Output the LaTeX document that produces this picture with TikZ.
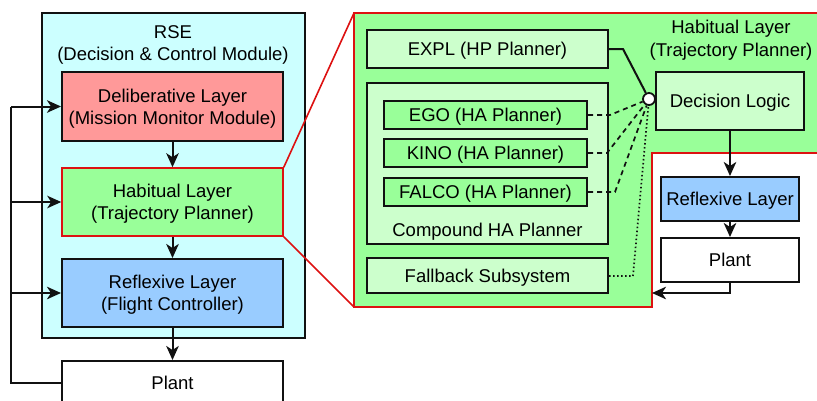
\documentclass[tikz,border=0pt]{standalone}
\usepackage{fontspec}
\setmainfont{Liberation Sans}
\usetikzlibrary{arrows.meta}
\definecolor{cyanbg}{HTML}{CCFFFF}
\definecolor{pinkbg}{HTML}{FF9999}
\definecolor{greenbg}{HTML}{99FF99}
\definecolor{lgreen}{HTML}{CCFFCC}
\definecolor{bluebg}{HTML}{99CCFF}
\definecolor{redln}{HTML}{DD1111}
\definecolor{ln}{HTML}{111111}
\begin{document}
\begin{tikzpicture}[x=1pt,y=-1pt,
  font=\fontsize{18.5}{21.7}\selectfont,
  every node/.append style={text depth=0pt},
  box/.style={draw=ln,line width=2pt,inner sep=0pt,align=center},
  arr/.style={draw=ln,line width=2pt,-{Stealth[length=14pt,width=12.5pt,inset=4pt]}},
  ln1/.style={draw=ln,line width=2pt},
  dsh/.style={draw=ln,line width=1.7pt,dash pattern=on 5pt off 4pt},
  dtt/.style={draw=ln,line width=1.7pt,dash pattern=on 1.5pt off 2.5pt},
  redl/.style={draw=redln,line width=1.6pt}]
\useasboundingbox (0,0) rectangle (817,400);
% left side
\node[box,fill=cyanbg,minimum width=263pt,minimum height=325pt] (rse) at (173.5,175.5) {};
\node (rsel1) at (173,32) {RSE};
\node (rsel2) at (173,54) {(Decision \& Control Module)};
\node[box,fill=pinkbg,minimum width=221pt,minimum height=69pt] (del) at (172.5,106.5) {Deliberative Layer\\(Mission Monitor Module)};
\node[box,draw=redln,line width=1.6pt,fill=greenbg,minimum width=221pt,minimum height=68pt] (hab) at (172.5,202) {Habitual Layer\\(Trajectory Planner)};
\node[box,fill=bluebg,minimum width=221pt,minimum height=68pt] (ref) at (172.5,293) {Reflexive Layer\\(Flight Controller)};
\node[box,fill=white,minimum width=221pt,minimum height=44pt] (plant) at (172.5,383) {Plant};
\draw[arr] (del) -- (hab);
\draw[arr] (hab) -- (ref);
\draw[arr] (ref) -- (plant);
\coordinate (fb1) at (11,383);
\coordinate (fb2) at (11,106.5);
\coordinate (fbh) at (11,202);
\coordinate (fbr) at (11,293);
\draw[ln1] (plant.west) -- (fb1) -- (fb2);
\draw[arr] (fb2) -- (del.west);
\draw[arr] (fbh) -- (hab.west);
\draw[arr] (fbr) -- (ref.west);
% zoom region
\coordinate (g1) at (354,13);
\coordinate (g2) at (822,13);
\coordinate (g3) at (822,153);
\coordinate (g4) at (652,153);
\coordinate (g5) at (652,307);
\coordinate (g6) at (354,307);
\fill[greenbg] (g1) -- (g2) -- (g3) -- (g4) -- (g5) -- (g6) -- cycle;
\draw[redl] (g1) -- (g2) -- (g3) -- (g4) -- (g5) -- (g6) -- cycle;
\draw[redl] (hab.north east) -- (g1);
\draw[redl] (hab.south east) -- (g6);
\node (hl1) at (731,27) {Habitual Layer};
\node (hl2) at (731,49.5) {(Trajectory Planner)};
\node[box,fill=lgreen,minimum width=241pt,minimum height=38pt] (expl) at (487.5,49) {EXPL (HP Planner)};
\node[box,fill=lgreen,minimum width=241pt,minimum height=161pt] (comp) at (487.5,163.5) {};
\node (compl) at (487.5,230) {Compound HA Planner};
\node[box,fill=greenbg,minimum width=203pt,minimum height=28pt] (ego) at (485.5,115) {EGO (HA Planner)};
\node[box,fill=greenbg,minimum width=203pt,minimum height=28pt] (kino) at (485.5,153) {KINO (HA Planner)};
\node[box,fill=greenbg,minimum width=203pt,minimum height=28pt] (falco) at (485.5,192) {FALCO (HA Planner)};
\node[box,fill=lgreen,minimum width=241pt,minimum height=35pt] (fall) at (487.5,275.5) {Fallback Subsystem};
\node[box,fill=lgreen,minimum width=148pt,minimum height=58pt] (dl) at (730,101) {Decision Logic};
\node[draw=ln,line width=1.8pt,fill=white,circle,minimum size=12pt,inner sep=0pt] (c) at (649,99) {};
\node[box,fill=bluebg,minimum width=138pt,minimum height=44pt] (rl) at (730,199) {Reflexive Layer};
\node[box,fill=white,minimum width=138pt,minimum height=44pt] (pl) at (730,260) {Plant};
\coordinate (ke) at (623,49);
\coordinate (kego) at (610,115);
\coordinate (kkino) at (607,153);
\coordinate (kfal) at (615,192);
\coordinate (kfb) at (633,276);
\draw[ln1] (expl.east |- ke) -- (ke) -- (c);
\draw[dsh] (ego.east) -- (kego) -- (c);
\draw[dsh] (kino.east) -- (kkino) -- (c);
\draw[dsh] (falco.east) -- (kfal) -- (c);
\draw[dtt] (fall.east |- kfb) -- (kfb) -- (c);
\draw[arr] (dl) -- (rl);
\draw[arr] (rl) -- (pl);
\coordinate (gin) at (652,293);
\draw[arr] (pl.south) |- (gin);
\end{tikzpicture}
\end{document}
